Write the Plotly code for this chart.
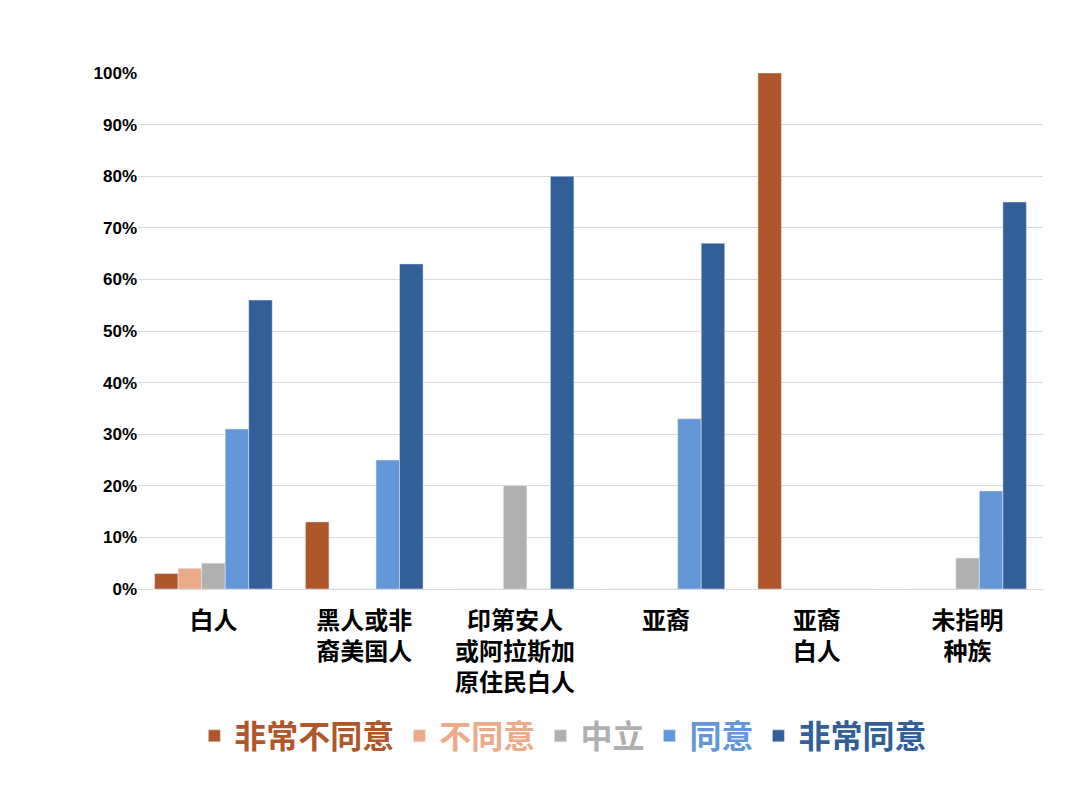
import plotly.graph_objects as go

categories = ["白人", "黑人或非<br>裔美国人", "印第安人<br>或阿拉斯加<br>原住民白人", "亚裔", "亚裔<br>白人", "未指明<br>种族"]
series_names = ["非常不同意", "不同意", "中立", "同意", "非常同意"]
colors = ["#B0562B", "#EBAA88", "#B0B0B0", "#6397D8", "#335F99"]
strongly_disagree = [3, 13, 0, 0, 100, 0]
disagree = [4, 0, 0, 0, 0, 0]
neutral = [5, 0, 20, 0, 0, 6]
agree = [31, 25, 0, 33, 0, 19]
strongly_agree = [56, 63, 80, 67, 0, 75]
values = [strongly_disagree, disagree, neutral, agree, strongly_agree]

fig = go.Figure()
for n, c, v in zip(series_names, colors, values):
    fig.add_bar(x=categories, y=v, marker_color=c,
                name=f"<span style='color:{c}'><b>{n}</b></span>")

font = "Noto Sans CJK SC, Liberation Sans, sans-serif"
fig.update_layout(
    width=1080, height=792, barmode="group", bargap=0.22, bargroupgap=0,
    paper_bgcolor="white", plot_bgcolor="white",
    margin=dict(l=130, r=45, t=65, b=211),
    font=dict(family=font, color="black"),
    legend=dict(orientation="h", x=0.47, xanchor="center", y=-0.285, yanchor="middle",
                font=dict(size=32, family=font), itemwidth=30, traceorder="normal"),
    xaxis=dict(tickfont=dict(size=24, family=font, weight="bold"), showline=True,
               linecolor="#D9D9D9", ticks="", ticklabelstandoff=10, automargin=False),
    yaxis=dict(range=[0, 100], dtick=10, ticksuffix="%", gridcolor="#D9D9D9", automargin=False,
               tickfont=dict(size=17, family="Liberation Sans", weight="bold"), zeroline=False),
)
fig.write_html("out.html")
